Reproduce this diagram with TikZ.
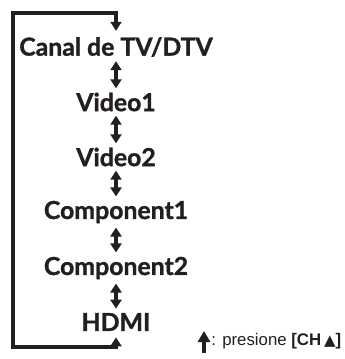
\documentclass[tikz,border=0pt]{standalone}
\usepackage{fontspec}
\usepackage{tikz}
\usetikzlibrary{arrows.meta, positioning}
\setmainfont{Liberation Sans}
\newfontfamily\menufont{Lato}[BoldFeatures={FakeBold=1.2}]
\newfontfamily\symfont{DejaVu Sans}
\definecolor{inkblack}{RGB}{35,31,32}

\begin{document}
\begin{tikzpicture}[
    x=0.5pt, y=-0.5pt,
    item/.style={inner sep=0pt, font=\menufont\fontsize{12.4}{14}\selectfont\bfseries, text=inkblack},
    swap/.style={{Triangle[width=5.5pt,length=4.5pt]}-{Triangle[width=5.5pt,length=4.5pt]}, line width=2pt, draw=inkblack, shorten >=2pt, shorten <=2pt},
    loopline/.style={{Triangle[width=5.5pt,length=4.5pt]}-{Triangle[width=5.5pt,length=4.5pt]}, line width=1.7pt, draw=inkblack},
    note/.style={inner sep=0pt, font=\fontsize{8.4}{10}\selectfont, text=inkblack}
]
\useasboundingbox (0,0) rectangle (344,359);

% input list
\node[item] (canal) at (116,47) {Canal de TV/DTV};
\node[item] (vid1) at (116,102) {Video1};
\node[item] (vid2) at (116,157) {Video2};
\node[item] (comp1) at (116,212) {Component1};
\node[item] (comp2) at (116,268) {Component2};
\node[item] (hdmi) at (116,322) {HDMI};

\draw[swap] (canal) -- (vid1);
\draw[swap] (vid1) -- (vid2);
\draw[swap] (vid2) -- (comp1);
\draw[swap] (comp1) -- (comp2);
\draw[swap] (comp2) -- (hdmi);

% wrap-around
\coordinate (lowleft) at (13,347);
\coordinate (upleft) at (13,13);
\draw[loopline, shorten >=3pt, shorten <=3pt] (hdmi.south) -- (hdmi.south |- lowleft) -- (lowleft) -- (upleft) -- (canal.north |- upleft) -- (canal.north);

% legend
\node[note, anchor=west] (key) at (211,341) {: presione \textbf{[CH\,{\symfont\fontsize{7.5}{8}\selectfont ▲}]}};
\coordinate (keybase) at (204,353);
\coordinate (keytip) at (204,331);
\draw[line width=2pt, draw=inkblack, -{Triangle[width=6pt,length=5.5pt]}] (keybase) -- (keytip);
\end{tikzpicture}
\end{document}
